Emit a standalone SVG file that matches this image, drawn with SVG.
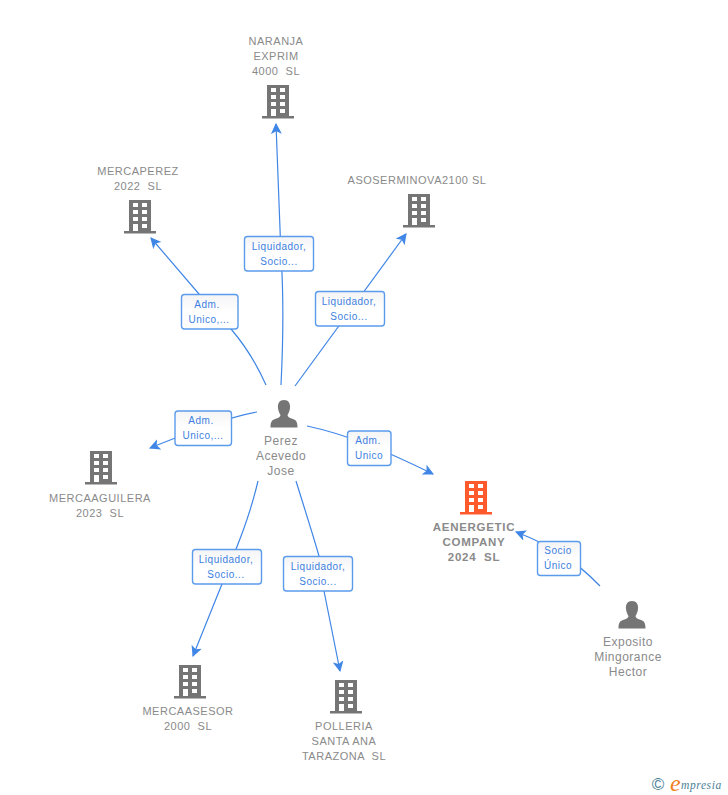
<svg xmlns="http://www.w3.org/2000/svg" width="728" height="795" viewBox="0 0 728 795">
<style>
text{font-family:"Liberation Sans",Arial,sans-serif;white-space:pre}
.n{font-size:11px;fill:#8a8a8a;text-anchor:middle;letter-spacing:.5px}
.p{font-size:12px;fill:#8a8a8a;text-anchor:middle;letter-spacing:.5px}
.b{font-size:11.500px;font-weight:bold;fill:#8a8a8a;text-anchor:middle;letter-spacing:.7px}
.l{font-size:10px;fill:#3d7fe0;text-anchor:middle;letter-spacing:.5px}
.box{fill:url(#g);stroke:#5b9bec;stroke-width:1.400}
.c{fill:none;stroke:#3f86e6;stroke-width:1.200;marker-end:url(#a)}
</style>
<defs>
<linearGradient id="g" x1="0" y1="0" x2="0" y2="1"><stop offset="0" stop-color="#f4f4f6"/><stop offset=".5" stop-color="#fff"/><stop offset="1" stop-color="#fff"/></linearGradient>
<marker id="a" viewBox="0 0 10 10" refX="9" refY="5" markerWidth="11" markerHeight="11" markerUnits="userSpaceOnUse" orient="auto"><path d="M0 0L10 5L0 10L2.500 5Z" fill="#3f86e6"/></marker>
<symbol id="bld" viewBox="0 0 32 34" width="32" height="34" overflow="visible">
<path fill-rule="evenodd" d="M5 0H27V31H32V33.500H0V31H5ZM9 3V7H14V3ZM18 3V7H23V3ZM9 10V14H14V10ZM18 10V14H23V10ZM9 17V21H14V17ZM18 17V21H23V17ZM9 24V31H14V24ZM18 24V28H23V24Z"/>
</symbol>
<symbol id="per" viewBox="0 0 28 28" width="28" height="28" overflow="visible">
<path d="M14 0C18.500 0 20.500 3.500 20 8C19.700 11 18.500 13.500 17.500 15C17.500 17 20 18 23 19C26 20 27.500 21.500 27.500 27.500H.5C.5 21.500 2 20 5 19C8 18 10.500 17 10.500 15C9.500 13.500 8.300 11 8 8C7.500 3.500 9.500 0 14 0Z" fill="#757575"/>
</symbol>
</defs>
<rect width="728" height="795" fill="#fff"/>
<g id="connectors">
<path class="c" d="M281 385C283 345 284 300 281 255L276 124"/>
<path class="c" d="M266 385C254 358 243 343 231 329L199 294L151 238"/>
<path class="c" d="M295 386L406 234"/>
<path class="c" d="M257 412C225 418 190 432 150 448"/>
<path class="c" d="M307 426C350 435 390 453 433 474"/>
<path class="c" d="M258 481C250 515 240 540 222 584L193 656"/>
<path class="c" d="M296 481C305 510 313 535 319 556C322 570 322 578 324 591L340 671"/>
<path class="c" d="M600 586C575 560 550 545 516 532"/>
</g>
<g id="label-1"><rect class="box" x="244.500" y="236.500" width="69" height="34.500" rx="3"/><text class="l" x="279" y="250">Liquidador,</text><text class="l" x="279" y="265">Socio...</text></g>
<g id="label-2"><rect class="box" x="181.500" y="294.500" width="56.500" height="34.500" rx="3"/><text class="l" x="207" y="308">Adm.</text><text class="l" x="209" y="323">Unico,...</text></g>
<g id="label-3"><rect class="box" x="315.500" y="291.500" width="69" height="34.500" rx="3"/><text class="l" x="349" y="305">Liquidador,</text><text class="l" x="349" y="320">Socio...</text></g>
<g id="label-4"><rect class="box" x="175" y="411" width="56.500" height="34.500" rx="3"/><text class="l" x="201" y="424">Adm.</text><text class="l" x="203" y="439">Unico,...</text></g>
<g id="label-5"><rect class="box" x="347.500" y="431" width="43.500" height="34.500" rx="3"/><text class="l" x="368" y="444">Adm.</text><text class="l" x="369" y="459">Unico</text></g>
<g id="label-6"><rect class="box" x="192.500" y="549.500" width="69" height="34.500" rx="3"/><text class="l" x="226" y="563">Liquidador,</text><text class="l" x="226" y="578">Socio...</text></g>
<g id="label-7"><rect class="box" x="283.500" y="556.500" width="69" height="34.500" rx="3"/><text class="l" x="318" y="570">Liquidador,</text><text class="l" x="318" y="585">Socio...</text></g>
<g id="label-8"><rect class="box" x="537.500" y="541.500" width="43" height="34" rx="3"/><text class="l" x="558" y="554">Socio</text><text class="l" x="558" y="569">Único</text></g>
<g id="naranja"><use href="#bld" x="262" y="85" fill="#757575"/><text class="n" x="276" y="45">NARANJA</text><text class="n" x="276" y="60">EXPRIM</text><text class="n" x="276" y="75">4000  SL</text></g>
<g id="mercaperez"><use href="#bld" x="124" y="200" fill="#757575"/><text class="n" x="138" y="175">MERCAPEREZ</text><text class="n" x="138" y="190">2022  SL</text></g>
<g id="asoserminova"><use href="#bld" x="403" y="194" fill="#757575"/><text class="n" x="417" y="184">ASOSERMINOVA2100 SL</text></g>
<g id="mercaaguilera"><use href="#bld" x="85" y="451" fill="#757575"/><text class="n" x="100" y="502">MERCAAGUILERA</text><text class="n" x="100" y="517">2023  SL</text></g>
<g id="aenergetic"><use href="#bld" x="460" y="481" fill="#ff5a2c"/><text class="b" x="474" y="531">AENERGETIC</text><text class="b" x="474" y="546">COMPANY</text><text class="b" x="474" y="561">2024  SL</text></g>
<g id="mercaasesor"><use href="#bld" x="174" y="665" fill="#757575"/><text class="n" x="188" y="715">MERCAASESOR</text><text class="n" x="188" y="730">2000  SL</text></g>
<g id="polleria"><use href="#bld" x="330" y="680" fill="#757575"/><text class="n" x="344" y="730">POLLERIA</text><text class="n" x="344" y="745">SANTA ANA</text><text class="n" x="344" y="760">TARAZONA  SL</text></g>
<g id="perez"><use href="#per" x="270" y="400"/><text class="p" x="281" y="445">Perez</text><text class="p" x="281" y="460">Acevedo</text><text class="p" x="281" y="475">Jose</text></g>
<g id="exposito"><use href="#per" x="618" y="601"/><text class="p" x="628" y="646">Exposito</text><text class="p" x="628" y="661">Mingorance</text><text class="p" x="628" y="676">Hector</text></g>
<g id="brand"><text x="658" y="790" font-size="17" fill="#4a7f96" text-anchor="middle">©</text><text x="670" y="791" style="font-family:'Liberation Serif',serif" font-size="24" font-style="italic" fill="#f08020">e</text><text x="681" y="789" font-size="11.500" font-style="italic" fill="#4a7f96" style="font-family:'Liberation Serif',serif" letter-spacing=".6">mpresia</text></g>
</svg>
